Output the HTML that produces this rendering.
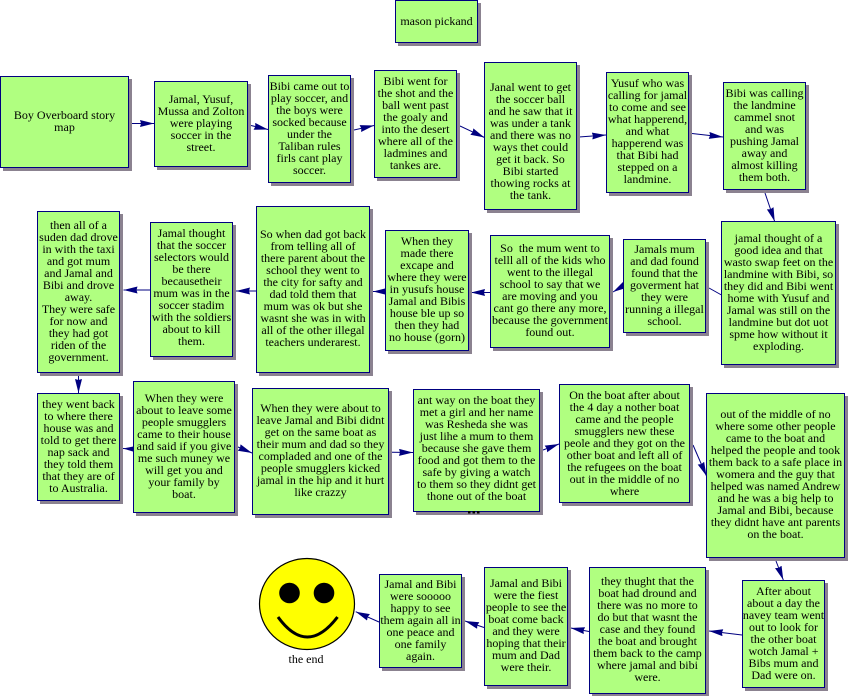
<!DOCTYPE html>
<html><head><meta charset="utf-8"><style>
html,body{margin:0;padding:0;background:#fff}
#c{position:relative;width:848px;height:696px;overflow:hidden;background:#fff;font:12px/12px "Liberation Serif",serif;color:#000}
.b{position:absolute;box-sizing:border-box;border:1px solid #000080;background:#b0ff80;box-shadow:3px 3px 0 #8b8290;display:flex;align-items:center;justify-content:center;text-align:center;white-space:nowrap;padding-bottom:2px}
svg{position:absolute;left:0;top:0}
.t{position:absolute;transform:translateX(-50%);white-space:nowrap}
</style></head><body><div id="c">
<svg width="848" height="696" viewBox="0 0 848 696">
<defs><marker id="a" markerUnits="userSpaceOnUse" markerWidth="15" markerHeight="8" refX="14" refY="3.5" orient="auto"><path d="M0,0 L14,3.5 L0,7 L1,3.5 z" fill="#000080"/></marker></defs>
<g stroke="#000080" stroke-width="1" fill="none">
<line x1="132" y1="123.5" x2="154" y2="123.5" marker-end="url(#a)"/>
<line x1="251" y1="125.5" x2="268" y2="129.5" marker-end="url(#a)"/>
<line x1="354" y1="130" x2="374" y2="125.5" marker-end="url(#a)"/>
<line x1="460" y1="126" x2="484.5" y2="137.5" marker-end="url(#a)"/>
<line x1="579" y1="137" x2="606" y2="135" marker-end="url(#a)"/>
<line x1="692" y1="133.5" x2="723" y2="137" marker-end="url(#a)"/>
<line x1="765" y1="193" x2="774.7" y2="221.5" marker-end="url(#a)"/>
<line x1="721.5" y1="295" x2="709" y2="288"/>
<line x1="623" y1="286" x2="613" y2="292" marker-end="url(#a)"/>
<line x1="490" y1="292.5" x2="471" y2="292.5" marker-end="url(#a)"/>
<line x1="385" y1="291.5" x2="373" y2="291.5" marker-end="url(#a)"/>
<line x1="256" y1="291" x2="236" y2="291" marker-end="url(#a)"/>
<line x1="150" y1="290" x2="123.5" y2="290" marker-end="url(#a)"/>
<line x1="78.5" y1="376" x2="78.5" y2="393" marker-end="url(#a)"/>
<line x1="133" y1="449" x2="123" y2="448.5" marker-end="url(#a)"/>
<line x1="238" y1="447" x2="252" y2="453" marker-end="url(#a)"/>
<line x1="392" y1="452.3" x2="413" y2="452.5" marker-end="url(#a)"/>
<line x1="543" y1="450" x2="559" y2="444" marker-end="url(#a)"/>
<line x1="693" y1="445" x2="706.5" y2="476" marker-end="url(#a)"/>
<line x1="776" y1="561" x2="783.3" y2="580" marker-end="url(#a)"/>
<line x1="742" y1="635" x2="709" y2="631" marker-end="url(#a)"/>
<line x1="589" y1="631.5" x2="570.7" y2="628" marker-end="url(#a)"/>
<line x1="484" y1="627.5" x2="465" y2="621" marker-end="url(#a)"/>
<line x1="379" y1="622" x2="355.7" y2="611.7" marker-end="url(#a)"/>
</g>
<ellipse cx="307" cy="604" rx="47.5" ry="45.5" fill="#ffff00" stroke="#000" stroke-width="1.2"/>
<circle cx="289.5" cy="593" r="10.3" fill="#000"/>
<circle cx="324" cy="593" r="10.3" fill="#000"/>
<path d="M278,617 Q307,657 337.5,617" fill="none" stroke="#000" stroke-width="3"/>
</svg>
<div class="b" style="left:395px;top:0;width:83px;height:43px">mason pickand</div>
<div class="b" style="left:0;top:76px;width:129px;height:92px">Boy Overboard story<br>map</div>
<div class="b" style="left:154px;top:81px;width:94px;height:86px">Jamal, Yusuf,<br>Mussa and Zolton<br>were playing<br>soccer in the<br>street.</div>
<div class="b" style="left:268px;top:75px;width:83px;height:108px">Bibi came out to<br>play soccer, and<br>the boys were<br>socked because<br>under the<br>Taliban rules<br>firls cant play<br>soccer.</div>
<div class="b" style="left:374px;top:70px;width:83px;height:108px">Bibi went for<br>the shot and the<br>ball went past<br>the goaly and<br>into the desert<br>where all of the<br>ladmines and<br>tankes are.</div>
<div class="b" style="left:484px;top:62px;width:93px;height:148px;padding-bottom:0;padding-top:10px">Janal went to get<br>the soccer ball<br>and he saw that it<br>was under a tank<br>and there was no<br>ways thet could<br>get it back. So<br>Bibi started<br>thowing rocks at<br>the tank.</div>
<div class="b" style="left:606px;top:72px;width:83px;height:121px;padding-bottom:4px">Yusuf who was<br>calling for jamal<br>to come and see<br>what happerend,<br>and what<br>happerend was<br>that Bibi had<br>stepped on a<br>landmine.</div>
<div class="b" style="left:723px;top:82px;width:83px;height:108px">Bibi was calling<br>the landmine<br>cammel snot<br>and was<br>pushing Jamal<br>away and<br>almost killing<br>them both.</div>
<div class="b" style="left:721px;top:221px;width:115px;height:144px">jamal thought of a<br>good idea and that<br>wasto swap feet on the<br>landmine with Bibi, so<br>they did and Bibi went<br>home with Yusuf and<br>Jamal was still on the<br>landmine but dot uot<br>spme how without it<br>exploding.</div>
<div class="b" style="left:623px;top:239px;width:83px;height:94px">Jamals mum<br>and dad found<br>found that the<br>goverment hat<br>they were<br>running a illegal<br>school.</div>
<div class="b" style="left:490px;top:235px;width:120px;height:113px;padding-bottom:4px">So&nbsp; the mum went to<br>telll all of the kids who<br>went to the illegal<br>school to say that we<br>are moving and you<br>cant go there any more,<br>because the government<br>found out.</div>
<div class="b" style="left:385px;top:230px;width:84px;height:121px;padding-bottom:4px">When they<br>made there<br>excape and<br>where they were<br>in yusufs house<br>Jamal and Bibis<br>house ble up so<br>then they had<br>no house (gorn)</div>
<div class="b" style="left:256px;top:206px;width:114px;height:167px;padding-bottom:4px">So when dad got back<br>from telling all of<br>there parent about the<br>school they went to<br>the city for safty and<br>dad told them that<br>mum was ok but she<br>wasnt she was in with<br>all of the other illegal<br>teachers underarest.</div>
<div class="b" style="left:150px;top:222px;width:83px;height:135px;padding-bottom:6px">Jamal thought<br>that the soccer<br>selectors would<br>be there<br>becausetheir<br>mum was in the<br>soccer stadim<br>with the soldiers<br>about to kill<br>them.</div>
<div class="b" style="left:37px;top:211px;width:83px;height:162px">then all of a<br>suden dad drove<br>in with the taxi<br>and got mum<br>and Jamal and<br>Bibi and drove<br>away.<br>They were safe<br>for now and<br>they had got<br>riden of the<br>government.</div>
<div class="b" style="left:37px;top:393px;width:83px;height:108px">they went back<br>to where there<br>house was and<br>told to get there<br>nap sack and<br>they told them<br>that they are of<br>to Australia.</div>
<div class="b" style="left:133px;top:381px;width:102px;height:132px">When they were<br>about to leave some<br>people smugglers<br>came to their house<br>and said if you give<br>me such muney we<br>will get you and<br>your family by<br>boat.</div>
<div class="b" style="left:252px;top:388px;width:137px;height:127px;padding-bottom:4px">When they were about to<br>leave Jamal and Bibi didnt<br>get on the same boat as<br>their mum and dad so they<br>compladed and one of the<br>people smugglers kicked<br>jamal in the hip and it hurt<br>like crazzy</div>
<div class="b" style="left:413px;top:389px;width:127px;height:123px;padding-bottom:6px">ant way on the boat they<br>met a girl and her name<br>was Resheda she was<br>just lihe a mum to them<br>because she gave them<br>food and got them to the<br>safe by giving a watch<br>to them so they didnt get<br>thone out of the boat</div>
<div class="b" style="left:559px;top:384px;width:131px;height:119px">On the boat after about<br>the 4 day a nother boat<br>came and the people<br>smugglers new these<br>peole and they got on the<br>other boat and left all of<br>the refugees on the boat<br>out in the middle of no<br>where</div>
<div class="b" style="left:706px;top:393px;width:139px;height:165px;padding-bottom:4px">out of the middle of no<br>where some other people<br>came to the boat and<br>helped the people and took<br>them back to a safe place in<br>womera and the guy that<br>helped was named Andrew<br>and he was a big help to<br>Jamal and Bibi, because<br>they didnt have ant parents<br>on the boat.</div>
<div class="b" style="left:742px;top:580px;width:83px;height:108px">After about<br>about a day the<br>navey team went<br>out to look for<br>the other boat<br>wotch Jamal +<br>Bibs mum and<br>Dad were on.</div>
<div class="b" style="left:589px;top:567px;width:117px;height:127px;padding-bottom:4px">they thught that the<br>boat had dround and<br>there was no more to<br>do but that wasnt the<br>case and they found<br>the boat and brought<br>them back to the camp<br>where jamal and bibi<br>were.</div>
<div class="b" style="left:484px;top:567px;width:84px;height:119px;padding-bottom:4px">Jamal and Bibi<br>were the fiest<br>people to see the<br>boat come back<br>and they were<br>hoping that their<br>mum and Dad<br>were their.</div>
<div class="b" style="left:379px;top:574px;width:83px;height:94px">Jamal and Bibi<br>were sooooo<br>happy to see<br>them again all in<br>one peace and<br>one family<br>again.</div>
<div class="t" style="left:306px;top:653px">the end</div>
<svg width="848" height="696" viewBox="0 0 848 696"><rect x="468" y="511" width="2.5" height="2.5" fill="#000"/><rect x="472.5" y="511" width="2.5" height="2.5" fill="#000"/><rect x="477" y="511" width="2.5" height="2.5" fill="#000"/></svg>
</div></body></html>
